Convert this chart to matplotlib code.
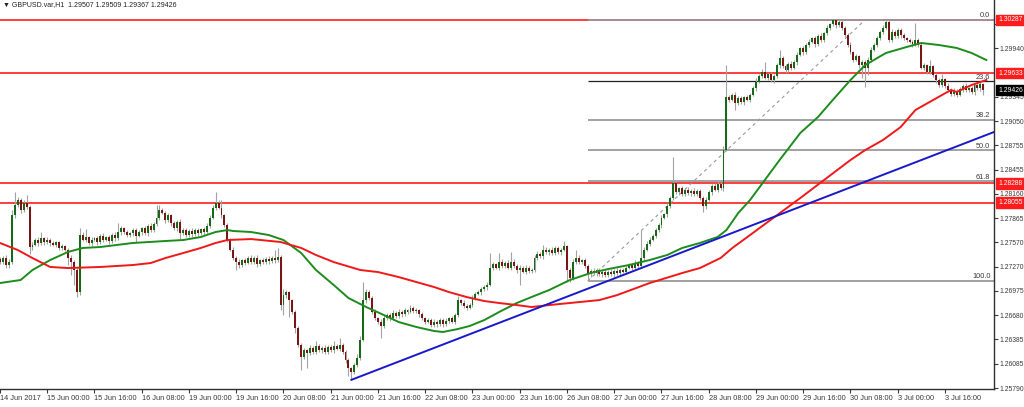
import numpy as np
import matplotlib
matplotlib.use("Agg")
import matplotlib.pyplot as plt
from matplotlib.transforms import blended_transform_factory

plt.rcParams['font.family'] = ['Liberation Sans', 'DejaVu Sans']

symbol = "GBPUSD.var,H1"
open0 = 1.2736
closes = [
    1.2733,1.2738,1.2729,1.2733,1.2790,1.2802,1.2809,1.2796,1.2805,1.2800,1.2751,1.2754,1.2760,1.2756,1.2762,1.2757,1.2760,1.2756,1.2754,1.2757,
    1.2750,1.2752,1.2748,1.2738,1.2733,1.2723,1.2696,1.2766,1.2760,1.2763,1.2756,1.2760,1.2762,1.2757,1.2765,1.2760,1.2763,1.2758,1.2766,1.2762,
    1.2769,1.2774,1.2769,1.2766,1.2768,1.2772,1.2765,1.2769,1.2774,1.2768,1.2777,1.2772,1.2779,1.2787,1.2796,1.2793,1.2784,1.2790,1.2780,1.2774,
    1.2782,1.2768,1.2772,1.2766,1.2771,1.2767,1.2772,1.2768,1.2773,1.2769,1.2777,1.2787,1.2799,1.2805,1.2799,1.2790,1.2778,1.2760,1.2748,1.2738,
    1.2733,1.2729,1.2735,1.2732,1.2738,1.2733,1.2738,1.2730,1.2735,1.2733,1.2737,1.2734,1.2738,1.2735,1.2739,1.2680,1.2692,1.2696,1.2686,1.2672,
    1.2652,1.2632,1.2617,1.2625,1.2622,1.2628,1.2623,1.2630,1.2625,1.2628,1.2623,1.2629,1.2625,1.2630,1.2627,1.2632,1.2623,1.2613,1.2603,1.2599,
    1.2607,1.2616,1.2638,1.2686,1.2696,1.2689,1.2672,1.2664,1.2660,1.2655,1.2664,1.2668,1.2664,1.2671,1.2667,1.2672,1.2669,1.2674,1.2672,1.2677,
    1.2673,1.2674,1.2669,1.2664,1.2660,1.2662,1.2656,1.2660,1.2657,1.2662,1.2657,1.2661,1.2664,1.2660,1.2668,1.2686,1.2683,1.2679,1.2677,1.2680,
    1.2689,1.2694,1.2696,1.2700,1.2702,1.2705,1.2726,1.2730,1.2726,1.2733,1.2728,1.2732,1.2726,1.2733,1.2728,1.2723,1.2726,1.2721,1.2726,1.2722,
    1.2723,1.2738,1.2743,1.2740,1.2748,1.2745,1.2748,1.2744,1.2750,1.2745,1.2748,1.2752,1.2723,1.2713,1.2733,1.2738,1.2733,1.2735,1.2728,1.2718,
    1.2722,1.2719,1.2723,1.2718,1.2721,1.2717,1.2721,1.2718,1.2722,1.2719,1.2723,1.2721,1.2726,1.2729,1.2726,1.2732,1.2728,1.2738,1.2748,1.2755,
    1.2760,1.2765,1.2772,1.2778,1.2787,1.2791,1.2801,1.2811,1.2829,1.2818,1.2823,1.2816,1.2821,1.2817,1.2820,1.2816,1.2820,1.2811,1.2801,1.2809,
    1.2818,1.2826,1.2821,1.2828,1.2823,1.2870,1.2934,1.2931,1.2937,1.2927,1.2933,1.2928,1.2934,1.2931,1.2937,1.2945,1.2953,1.2960,1.2965,1.2958,
    1.2962,1.2955,1.2960,1.2973,1.2982,1.2972,1.2967,1.2975,1.2970,1.2977,1.2986,1.2994,1.2989,1.2998,1.3002,1.3006,1.2999,1.3009,1.3004,1.3012,
    1.3019,1.3023,1.3028,1.3022,1.3026,1.3019,1.3010,1.2998,1.2989,1.2980,1.2984,1.2973,1.2977,1.2970,1.2980,1.2992,1.2998,1.3006,1.3014,1.3019,
    1.3026,1.3004,1.3014,1.3009,1.3016,1.3010,1.3006,1.3004,1.3002,1.2999,1.3004,1.2998,1.2970,1.2973,1.2965,1.2972,1.2961,1.2955,1.2949,1.2956,
    1.2948,1.2943,1.2938,1.2942,1.2937,1.2944,1.2948,1.2943,1.2945,1.2940,1.2949,1.2945,1.29507,1.29426,
]
wick_up_pips = [
    3,2,4,3,6,16,3,2,4,10,2,3,2,3,7,2,3,2,3,2,
    2,3,2,2,3,2,3,8,3,10,2,3,2,3,2,3,2,3,2,3,
    12,3,2,3,2,3,2,3,2,3,2,3,3,15,7,3,2,3,2,3,
    2,3,2,3,2,3,2,3,2,3,3,3,4,13,3,10,2,3,2,3,
    2,3,2,3,2,3,2,3,2,3,2,3,2,10,11,2,8,3,2,2,
    2,3,2,3,2,3,2,7,3,2,3,2,3,7,3,8,2,2,3,2,
    3,4,5,22,4,3,2,3,2,3,4,3,2,3,2,3,2,3,2,3,
    2,3,2,3,2,3,2,3,2,3,2,3,2,3,3,5,2,3,2,3,
    3,2,3,2,3,3,18,3,2,11,3,2,3,12,3,2,3,2,3,2,
    3,4,3,2,6,3,2,3,2,3,2,7,2,3,3,10,3,2,3,2,
    2,3,2,3,2,3,2,3,2,3,2,3,2,3,2,3,2,34,3,3,
    3,2,3,2,3,2,4,3,32,3,2,3,2,3,2,3,2,2,3,3,
    3,2,3,5,2,4,39,3,2,3,2,3,2,3,2,3,4,3,3,12,
    2,3,2,3,10,2,3,2,3,2,3,2,3,2,3,2,3,2,3,2,
    3,2,1,2,3,2,2,2,3,2,3,2,2,2,3,3,2,3,2,3,
    2,2,3,2,3,2,3,2,2,2,21,2,2,3,2,7,2,3,2,6,
    2,3,2,3,2,3,2,3,2,3,2,3,2,0.2,
]
wick_dn_pips = [
    3,2,4,3,2,3,2,3,2,3,8,3,2,3,2,3,2,3,2,3,
    2,3,2,9,16,18,6,3,2,3,2,3,2,3,2,3,2,3,2,3,
    2,3,2,3,2,3,8,2,3,2,3,2,3,2,3,2,3,2,3,2,
    3,8,2,3,2,3,2,3,2,3,2,3,2,3,2,3,2,3,2,3,
    10,3,2,3,2,3,2,3,2,3,2,3,2,3,2,6,12,3,20,3,
    6,3,16,3,18,3,2,3,2,3,2,3,2,3,2,3,2,3,9,10,
    3,2,3,2,3,2,3,2,3,15,3,2,3,2,3,2,3,2,3,2,
    3,2,3,2,3,2,3,2,3,2,3,2,3,2,3,2,3,2,3,2,
    2,3,2,3,2,3,2,3,2,3,2,3,2,3,2,3,18,2,3,2,
    3,2,3,2,3,2,3,2,3,2,3,2,15,5,2,3,2,3,2,8,
    3,2,3,2,3,2,3,2,3,2,3,2,3,2,3,2,3,2,3,2,
    3,2,3,2,3,2,3,2,3,2,3,2,3,2,3,2,3,2,7,3,
    2,3,2,3,2,3,2,3,2,9,3,2,3,2,3,2,3,2,3,2,
    3,2,3,2,3,2,3,2,3,2,3,2,3,2,3,2,3,2,3,2,
    2,3,2,3,2,3,2,3,2,3,2,3,15,24,9,3,2,3,2,3,
    2,3,2,3,2,3,2,3,2,3,2,3,2,3,2,3,2,3,2,3,
    3,2,3,2,3,2,3,2,3,2,3,2,3,5.9,
]

# moving averages (bar index, value)
ma_fast_idx = [0,7,11,17,23,28,34,45,56,62,68,73,77,79,85,91,96,102,107,113,118,124,130,135,141,147,150,155,159,164,169,175,180,186,193,200,206,213,220,226,231,237,243,246,250,254,264,271,277,282,288,293,300,307,312,318,324,329,334]
ma_fast_val = [1.27072,1.27109,1.27231,1.27353,1.27451,1.27500,1.27512,1.27561,1.27585,1.27597,1.27634,1.27695,1.27719,1.27707,1.27695,1.27658,1.27597,1.27438,1.27231,1.27048,1.26889,1.26779,1.26681,1.26596,1.26535,1.26486,1.26474,1.26510,1.26547,1.26620,1.26718,1.26828,1.26901,1.26987,1.27109,1.27194,1.27243,1.27292,1.27353,1.27415,1.27500,1.27561,1.27634,1.27719,1.27927,1.28086,1.28574,1.28904,1.29099,1.29307,1.29551,1.29734,1.29881,1.29954,1.30003,1.29978,1.29942,1.29881,1.29795]
ma_slow_idx = [0,6,11,17,23,34,45,51,56,62,68,73,77,85,95,102,107,113,122,128,135,141,147,152,158,164,169,175,180,186,203,209,220,231,237,244,248,254,271,288,293,299,305,310,316,322,324,329,334]
ma_slow_val = [1.27561,1.27475,1.27377,1.27268,1.27255,1.27268,1.27292,1.27316,1.27377,1.27438,1.27500,1.27561,1.27597,1.27609,1.27573,1.27500,1.27414,1.27328,1.27231,1.27206,1.27145,1.27084,1.27023,1.26962,1.26901,1.26852,1.26828,1.26803,1.26779,1.26803,1.26864,1.26925,1.27072,1.27194,1.27255,1.27377,1.27500,1.27658,1.28110,1.28574,1.28696,1.28818,1.28977,1.29185,1.29307,1.29429,1.29405,1.29490,1.29551]

trend_idx = [119, 336.6]
trend_val = [1.2589, 1.28916]

hlines_red = [1.30287, 1.29633, 1.28288, 1.28055]
fib_idx = [199, 293]
fib_100 = 1.27097
fib_0 = 1.30287
fib_levels = [0.0, 23.6, 38.2, 50.0, 61.8, 100.0]
current_price = 1.29426

price_ticks = [1.25790,1.26085,1.26385,1.26680,1.26975,1.27270,1.27570,1.27865,1.28160,1.28455,1.28755,1.29050,1.29345,1.29940,1.30235]
time_tick_idx = [0,16,32,48,64,80,96,112,128,144,160,176,192,208,224,240,256,272,288,304,320]
time_tick_labels = ["14 Jun 2017","15 Jun 00:00","15 Jun 16:00","16 Jun 08:00","19 Jun 00:00","19 Jun 16:00",
                    "20 Jun 08:00","21 Jun 00:00","21 Jun 16:00","22 Jun 08:00","23 Jun 00:00","23 Jun 16:00",
                    "26 Jun 08:00","27 Jun 00:00","27 Jun 16:00","28 Jun 08:00","29 Jun 00:00","29 Jun 16:00",
                    "30 Jun 08:00","3 Jul 00:00","3 Jul 16:00"]

# ---------------------------------------------------------------
pip = 0.0001
close = np.array(closes)
opens = np.concatenate([[open0], close[:-1]])
high = np.maximum(opens, close) + np.array(wick_up_pips) * pip
low = np.minimum(opens, close) - np.array(wick_dn_pips) * pip
idx = np.arange(len(close))

W, H = 1024, 407
fig = plt.figure(figsize=(W / 100, H / 100), dpi=100)
ax = fig.add_axes([0, 18 / H, 994 / W, 389 / H])
XMAX = 336.6
ax.set_xlim(0, XMAX)
ax.set_ylim(1.25778, 1.30528)

FS = 5.3
YFS = 4.9
TXT = '#3a3a3a'

# horizontal red levels
for lv in hlines_red:
    ax.axhline(lv, color='#ff1c1c', lw=1.2, zorder=1.5)

# fibonacci
for lvl in fib_levels:
    p = fib_0 + (fib_100 - fib_0) * lvl / 100.0
    col = '#202020' if lvl == 23.6 else '#9a9a9a'
    lw = 0.9 if lvl == 23.6 else 1.3
    ax.hlines(p, fib_idx[0], XMAX, color=col, lw=lw, zorder=1.6)
    ax.text(XMAX - 1.2, p + 0.00008, f"{lvl:.1f}", ha='right', va='bottom',
            fontsize=FS, color=TXT, zorder=6)
ax.plot(fib_idx, [fib_100, fib_0], color='#9a9a9a', lw=0.8, ls=(0, (3, 3)), zorder=1.7)

# candles
ax.vlines(idx, low, high, color='#a3a3a3', lw=0.8, zorder=2)
up = close >= opens
dn = ~up
hgt = np.maximum(np.abs(close - opens), 0.00004)
ax.bar(idx[up], hgt[up], bottom=opens[up], width=0.66, color='#166a16', zorder=3)
ax.bar(idx[dn], hgt[dn], bottom=close[dn], width=0.66, color='#7a1515', zorder=3)

# moving averages + trendline
ax.plot(ma_fast_idx, ma_fast_val, color='#1c8c1c', lw=1.4, zorder=4)
ax.plot(ma_slow_idx, ma_slow_val, color='#f01818', lw=1.4, zorder=4)
ax.plot(trend_idx, trend_val, color='#1818cc', lw=1.4, zorder=5, clip_on=True)

# axes styling
for s in ['left', 'top']:
    ax.spines[s].set_visible(False)
for s in ['right', 'bottom']:
    ax.spines[s].set_color('#303030')
    ax.spines[s].set_linewidth(1.0)

ax.yaxis.tick_right()
ax.set_yticks(price_ticks)
ax.set_yticklabels([f"{v:.5f}" for v in price_ticks])
ax.tick_params(axis='y', length=3, width=0.8, pad=1.2, labelsize=YFS, colors=TXT)
ax.set_xticks(time_tick_idx)
ax.set_xticklabels(time_tick_labels)
ax.tick_params(axis='x', length=3, width=0.8, pad=1.5, labelsize=FS, colors=TXT)
for lab in ax.get_xticklabels():
    lab.set_ha('left')

# price boxes on the axis
tr = blended_transform_factory(ax.transAxes, ax.transData)
for lv, fc in [(v, '#ff1c1c') for v in hlines_red] + [(current_price, 'black')]:
    ax.text(1.0042, lv, f"{lv:.5f}", transform=tr, ha='left', va='center',
            color='white', zorder=10, clip_on=False, fontsize=YFS,
            bbox=dict(boxstyle='square,pad=0.25', fc=fc, ec=fc))

# header
hdr = f"\u25bc {symbol}  {opens[-1]:.5f} {high[-1]:.5f} {low[-1]:.5f} {close[-1]:.5f}"
fig.text(3 / W, 1 - 5 / H, hdr, ha='left', va='center', fontsize=5.0, color='#202020')

fig.savefig("out.png", dpi=100, facecolor='white')
